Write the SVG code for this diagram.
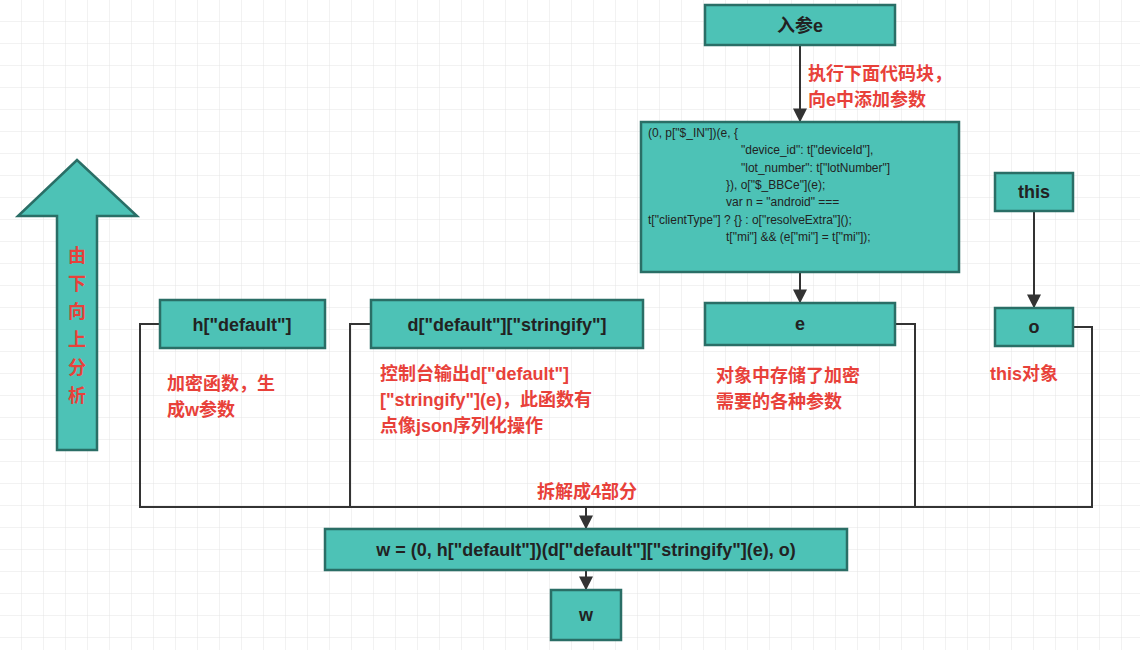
<svg xmlns="http://www.w3.org/2000/svg" width="1140" height="650" viewBox="0 0 1140 650">
<defs>
<pattern id="g" width="22" height="22" patternUnits="userSpaceOnUse"><path d="M22 0V22H0" fill="none" stroke="#e4e4e4" stroke-width="1"/></pattern>
<marker id="a" viewBox="0 0 10 10" refX="9" refY="5" markerWidth="7" markerHeight="7" orient="auto"><path d="M0 0L10 5L0 10z" fill="#333"/></marker>
<style>
.b{fill:#4dc2b6;stroke:#2a6e66;stroke-width:2.5}
.t{font-family:"Liberation Sans",Arial,sans-serif;font-weight:bold;font-size:18px;fill:#222;text-anchor:middle}
.c{font-family:"Liberation Sans",Arial,sans-serif;font-size:12px;fill:#222}
.r{font-family:"Liberation Sans","Noto Sans CJK SC",sans-serif;font-weight:bold;font-size:18px;fill:#e8413a}
.l{fill:none;stroke:#333;stroke-width:2}
</style>
</defs>
<rect width="1140" height="650" fill="#fff"/>
<rect width="1140" height="650" fill="url(#g)"/>
<g id="connectors">
<path class="l" d="M160 324H140V507H1092V327H1073"/>
<path class="l" d="M371 324H350V507"/>
<path class="l" d="M895 324H915V507"/>
<path class="l" d="M586 507V528" marker-end="url(#a)"/>
<path class="l" d="M800 45V121" marker-end="url(#a)"/>
<path class="l" d="M800 272V302" marker-end="url(#a)"/>
<path class="l" d="M1034 211V307" marker-end="url(#a)"/>
<path class="l" d="M586 570V589" marker-end="url(#a)"/>
</g>
<g id="bigarrow"><path class="b" d="M57 450V216H18L77 160L137 216H97V450Z"/>
<text class="r" x="77" font-size="20" text-anchor="middle"><tspan x="77" y="262">由</tspan><tspan x="77" y="290">下</tspan><tspan x="77" y="318">向</tspan><tspan x="77" y="346">上</tspan><tspan x="77" y="374">分</tspan><tspan x="77" y="402">析</tspan></text></g>
<g id="n-in"><rect class="b" x="705" y="5" width="190" height="40"/><text class="t" x="800" y="32" style="font-family:'Liberation Sans','Noto Sans CJK SC',sans-serif">入参e</text></g>
<g id="lbl-exec"><text class="r" x="808" y="80">执行下面代码块，</text><text class="r" x="808" y="106">向e中添加参数</text></g>
<g id="n-code"><rect class="b" x="641" y="122" width="318" height="150"/>
<text class="c"><tspan x="648" y="137">(0, p["$_IN"])(e, {</tspan><tspan x="741" y="154">"device_id": t["deviceId"],</tspan><tspan x="741" y="172">"lot_number": t["lotNumber"]</tspan><tspan x="726" y="189">}), o["$_BBCe"](e);</tspan><tspan x="726" y="206">var n = "android" ===</tspan><tspan x="648" y="224">t["clientType"] ? {} : o["resolveExtra"]();</tspan><tspan x="726" y="241">t["mi"] &amp;&amp; (e["mi"] = t["mi"]);</tspan></text></g>
<g id="n-this"><rect class="b" x="995" y="173" width="78" height="38"/><text class="t" x="1034" y="198">this</text></g>
<g id="n-o"><rect class="b" x="995" y="308" width="78" height="38"/><text class="t" x="1034" y="333">o</text></g>
<g id="n-h"><rect class="b" x="160" y="300" width="165" height="48"/><text class="t" x="242" y="331">h["default"]</text></g>
<g id="n-d"><rect class="b" x="371" y="300" width="272" height="48"/><text class="t" x="507" y="331">d["default"]["stringify"]</text></g>
<g id="n-e"><rect class="b" x="705" y="303" width="190" height="42"/><text class="t" x="800" y="330">e</text></g>
<g id="lbls">
<text class="r" x="167" y="390">加密函数，生</text><text class="r" x="167" y="416">成w参数</text>
<text class="r" x="380" y="380">控制台输出d["default"]</text><text class="r" x="380" y="406">["stringify"](e)，此函数有</text><text class="r" x="380" y="432">点像json序列化操作</text>
<text class="r" x="716" y="382">对象中存储了加密</text><text class="r" x="716" y="408">需要的各种参数</text>
<text class="r" x="990" y="380">this对象</text>
<text class="r" x="537" y="498">拆解成4部分</text>
</g>
<g id="n-wexpr"><rect class="b" x="325" y="529" width="522" height="41"/><text class="t" x="586" y="556">w = (0, h["default"])(d["default"]["stringify"](e), o)</text></g>
<g id="n-w"><rect class="b" x="551" y="590" width="70" height="50"/><text class="t" x="586" y="621">w</text></g>
</svg>
